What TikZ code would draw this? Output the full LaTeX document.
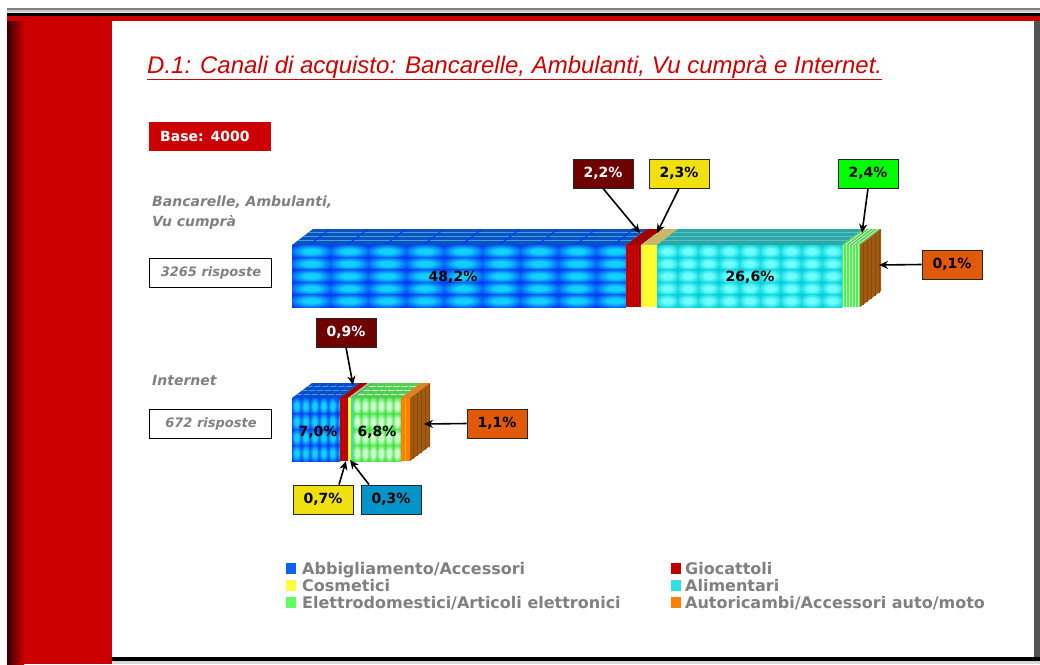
\documentclass[tikz,border=0pt]{standalone}
\usepackage{fontspec}
\setmainfont{DejaVu Sans}
\newfontfamily\titlefont{Liberation Sans}
\usetikzlibrary{arrows.meta}
\definecolor{frred}{HTML}{CC0000}
\definecolor{gtext}{HTML}{808080}
\definecolor{blueIn}{HTML}{10D0FF}
\definecolor{blueOut}{HTML}{0040F4}
\definecolor{cyanIn}{HTML}{70FFFF}
\definecolor{cyanOut}{HTML}{00D0D8}
\definecolor{greenIn}{HTML}{D0FFD0}
\definecolor{greenOut}{HTML}{40E040}
\definecolor{segred}{HTML}{D00000}
\definecolor{redline}{HTML}{980000}
\definecolor{segyellow}{HTML}{FFFF30}
\definecolor{seggreen}{HTML}{50F050}
\definecolor{greenline}{HTML}{C8FFC8}
\definecolor{segorange}{HTML}{FF8000}
\definecolor{brownside}{HTML}{A05A12}
\definecolor{brownline}{HTML}{8A4A08}
\definecolor{bluetop}{HTML}{1050C0}
\definecolor{bluetopline}{HTML}{30A8D8}
\definecolor{redtop}{HTML}{A00000}
\definecolor{yellowtop}{HTML}{C8B868}
\definecolor{cyantop}{HTML}{2EA6A6}
\definecolor{cyantopline}{HTML}{50C4C4}
\definecolor{greentop}{HTML}{58C858}
\definecolor{orangetop}{HTML}{E08020}
\definecolor{boxmaroon}{HTML}{6E0000}
\definecolor{boxyellow}{HTML}{F0E010}
\definecolor{boxgreen}{HTML}{00FF00}
\definecolor{boxorange}{HTML}{E05A0A}
\definecolor{boxblue}{HTML}{0094C8}
\definecolor{legblue}{HTML}{1060F0}
\definecolor{legred}{HTML}{C00000}
\definecolor{legyellow}{HTML}{FFFF40}
\definecolor{legcyan}{HTML}{30E0E0}
\definecolor{leggreen}{HTML}{60FF60}
\definecolor{legorange}{HTML}{FF8000}
\colorlet{tin}{white}
\colorlet{tout}{black}
\pgfdeclareradialshading[tin,tout]{pillow}{\pgfpoint{0bp}{0bp}}{color(0bp)=(tin); color(10bp)=(tin); color(32bp)=(tout); color(50bp)=(tout)}
% x0 x1 y0 y1 w h inner outer
\newcommand{\tilegrid}[8]{%
  \begin{scope}
    \clip (#1,#3) rectangle (#2,#4);
    \fill[#8] (#1,#3) rectangle (#2,#4);
    \colorlet{tin}{#7}\colorlet{tout}{#8}%
    \pgfmathtruncatemacro\tgNc{ceil((#2-#1)/#5)-1}%
    \pgfmathtruncatemacro\tgNr{ceil((#4-#3)/#6)-1}%
    \foreach \i in {0,...,\tgNc}{\foreach \j in {0,...,\tgNr}{%
      \shade[shading=pillow] ({#1+\i*#5},{#3+\j*#6}) rectangle ++(#5,#6);
    }}
  \end{scope}}
% x0 x1 y dx dy colour
\newcommand{\topface}[6]{%
  \fill[#6] (#1,#3) -- (#2,#3) -- ++(#4,#5) -- ({#1+#4},{#3+#5}) -- cycle;}
\begin{document}
\begin{tikzpicture}[x=1pt,y=-1pt,
  callout/.style={draw=black!85, line width=0.8pt, minimum width=60pt, minimum height=29pt, inner sep=0pt, font=\fontsize{14}{16}\selectfont\bfseries},
  arr/.style={-{Stealth[length=9pt,width=8pt]}, line width=1.6pt},
  pct/.style={font=\fontsize{14}{16}\selectfont\bfseries, text=black, inner sep=0pt},
  grayit/.style={font=\fontsize{14}{20}\selectfont\bfseries\itshape, text=gtext, inner sep=0pt, align=left},
  respbox/.style={draw=black, line width=0.8pt, minimum width=122pt, minimum height=29pt, inner sep=0pt, font=\fontsize{13}{16}\selectfont\bfseries\itshape, text=gtext},
  legtext/.style={font=\fontsize{16}{18}\selectfont\bfseries, text=gtext, inner sep=0pt, anchor=base west},
  legsq/.style={minimum width=10pt, minimum height=11pt, inner sep=0pt}
]
\useasboundingbox (0,0) rectangle (1040,664);
\fill[white] (0,0) rectangle (1040,664);
% ---- frame ----
\fill[black!50] (7,8) rectangle (1040,9.5);
\fill[black!22] (7,9.5) rectangle (1040,12);
\fill[black!8] (7,12) rectangle (1040,13);
\fill[black] (7,13) rectangle (1040,16);
\fill[frred] (7,16) rectangle (1040,21);
\fill[frred] (7,21) rectangle (112,664);
\shade[left color=black!75!frred, right color=frred] (7,21) rectangle (24,664);
\fill[black!68] (1034,21) rectangle (1040,657);
\fill[black] (112,657) rectangle (1040,661);
\fill[black!15] (112,661) rectangle (1040,664);
% ---- title ----
\node[anchor=base west, inner sep=0pt, text=frred, font=\titlefont\itshape\fontsize{24}{28}\selectfont] (title) at (147,73) {\underline{D.1: Canali di acquisto: Bancarelle, Ambulanti, Vu cumprà e Internet.}};
% ---- base ----
\node[fill=frred, text=white, anchor=west, minimum height=29pt, inner xsep=11pt, inner ysep=0pt, text width=100pt, font=\fontsize{14}{16}\selectfont\bfseries] (base) at (149,136.5) {Base: 4000};
% ---- row labels ----
\node[grayit, anchor=north west] (lab1) at (152,196) {Bancarelle, Ambulanti,\\Vu cumprà};
\node[respbox] (resp1) at (210,272.5) {\hspace*{2pt}3265 risposte};
\node[grayit, anchor=base west] (lab2) at (152,385) {Internet};
\node[respbox] (resp2) at (210,423.5) {\hspace*{2pt}672 risposte};
% ---- top bar (y 245..307, depth 21,-16) ----
\topface{292}{626}{245}{21}{-16}{bluetop}
\begin{scope}
  \clip (292,245) -- (626,245) -- (647,229) -- (313,229) -- cycle;
  \foreach \yy in {232,236,240}{\draw[bluetopline, line width=1pt] (292,\yy) -- (650,\yy);}
  \foreach \xx in {330,368,...,640}{\draw[blueOut, line width=1.2pt] (\xx,229) -- ({\xx-21},245);}
\end{scope}
\topface{626}{641}{245}{21}{-16}{redtop}
\topface{641}{657}{245}{21}{-16}{yellowtop}
\topface{657}{842}{245}{21}{-16}{cyantop}
\begin{scope}
  \clip (657,245) -- (842,245) -- (863,229) -- (678,229) -- cycle;
  \foreach \yy in {232,236,240}{\draw[cyantopline, line width=1pt] (650,\yy) -- (870,\yy);}
\end{scope}
\topface{842}{860}{245}{21}{-16}{greentop}
\begin{scope}
  \clip (842,245) -- (860,245) -- (881,229) -- (863,229) -- cycle;
  \foreach \xx in {846,850,...,884}{\draw[greenline, line width=0.8pt] (\xx,229) -- ({\xx-21},245);}
\end{scope}
\tilegrid{292}{626}{245}{307}{38}{12.4}{blueIn}{blueOut}
\fill[segred] (626,245) rectangle (641,307);
\foreach \xx in {627.5,630.5,...,640}{\draw[redline, line width=0.8pt] (\xx,245) -- (\xx,307);}
\fill[segyellow] (641,245) rectangle (657,307);
\tilegrid{657}{842}{245}{307}{20.6}{12.4}{cyanIn}{cyanOut}
\fill[seggreen] (842,245) rectangle (860,307);
\foreach \xx in {843.5,846.5,...,859}{\draw[greenline, line width=0.8pt] (\xx,245) -- (\xx,307);}
\fill[brownside] (860,245) -- (881,229) -- (881,291) -- (860,307) -- cycle;
\foreach \xx in {863,867,...,880}{\draw[brownline, line width=0.6pt] (\xx,{245-16*(\xx-860)/21}) -- (\xx,{307-16*(\xx-860)/21});}
\node[pct] (p482) at (453,277) {48,2\%};
\node[pct] (p266) at (750,277) {26,6\%};
\coordinate (t22) at (640,233);
\coordinate (t23) at (657,233);
\coordinate (t24) at (862,233);
\coordinate (t01) at (879,265);
% ---- internet bar (y 398..461, depth 20,-15) ----
\topface{292}{340}{398}{20}{-15}{bluetop}
\begin{scope}
  \clip (292,398) -- (340,398) -- (360,383) -- (312,383) -- cycle;
  \foreach \yy in {386,390,394}{\draw[bluetopline, line width=0.8pt] (290,\yy) -- (362,\yy);}
  \foreach \xx in {310,318,...,362}{\draw[blueOut, line width=0.8pt] (\xx,383) -- ({\xx-20},398);}
\end{scope}
\topface{340}{348}{398}{20}{-15}{redtop}
\topface{348}{351}{398}{20}{-15}{yellowtop}
\topface{351}{353}{398}{20}{-15}{cyantop}
\topface{353}{401}{398}{20}{-15}{greentop}
\begin{scope}
  \clip (353,398) -- (401,398) -- (421,383) -- (373,383) -- cycle;
  \foreach \yy in {386,390,394}{\draw[greenIn, line width=0.8pt] (350,\yy) -- (425,\yy);}
  \foreach \xx in {373,381,...,425}{\draw[greenOut, line width=0.8pt] (\xx,383) -- ({\xx-20},398);}
\end{scope}
\topface{401}{410}{398}{20}{-15}{orangetop}
\tilegrid{292}{340}{398}{461}{9}{15.75}{blueIn}{blueOut}
\fill[segred] (340,398) rectangle (348,461);
\foreach \xx in {341.5,344.5,347}{\draw[redline, line width=0.6pt] (\xx,398) -- (\xx,461);}
\fill[segyellow] (348,398) rectangle (351,461);
\fill[legcyan] (351,398) rectangle (353,461);
\tilegrid{353}{401}{398}{461}{8}{15.75}{greenIn}{greenOut}
\fill[segorange] (401,398) rectangle (410,461);
\draw[orange!60!yellow, line width=1pt] (405.5,398) -- (405.5,461);
\fill[brownside] (410,398) -- (430,383) -- (430,446) -- (410,461) -- cycle;
\foreach \xx in {413,417,...,429}{\draw[brownline, line width=0.6pt] (\xx,{398-15*(\xx-410)/20}) -- (\xx,{461-15*(\xx-410)/20});}
\node[pct] (p70) at (318,432) {7,0\%};
\node[pct] (p68) at (377,432) {6,8\%};
\coordinate (t09) at (353,385);
\coordinate (t11) at (424,424);
\coordinate (t07) at (346,461);
\coordinate (t03) at (350,460);
% ---- callouts ----
\node[callout, fill=boxmaroon, text=white] (c22) at (603,173.5) {2,2\%};
\node[callout, fill=boxyellow] (c23) at (679,173.5) {2,3\%};
\node[callout, fill=boxgreen] (c24) at (868,173.5) {2,4\%};
\node[callout, fill=boxorange] (c01) at (952,264.5) {0,1\%};
\node[callout, fill=boxmaroon, text=white] (c09) at (346,332.5) {0,9\%};
\node[callout, fill=boxorange] (c11) at (497,423.5) {1,1\%};
\node[callout, fill=boxyellow] (c07) at (323,499.5) {0,7\%};
\node[callout, fill=boxblue] (c03) at (391,499.5) {0,3\%};
\draw[arr] (c22.south) -- (t22);
\draw[arr] (c23.south) -- (t23);
\draw[arr] (c24.south) -- (t24);
\draw[arr] (c01.west) -- (t01);
\draw[arr] (c09.south) -- (t09);
\draw[arr] (c11.west) -- (t11);
\draw[arr] ([xshift=16pt]c07.north) -- (t07);
\draw[arr] ([xshift=-22pt]c03.north) -- (t03);
% ---- legend ----
\node[legsq, fill=legblue] (lq1) at (291,568) {};
\node[legtext] (lt1) at (302,574) {Abbigliamento/Accessori};
\node[legsq, fill=legyellow] (lq2) at (291,585) {};
\node[legtext] (lt2) at (302,591) {Cosmetici};
\node[legsq, fill=leggreen] (lq3) at (291,602) {};
\node[legtext] (lt3) at (302,608) {Elettrodomestici/Articoli elettronici};
\node[legsq, fill=legred] (lq4) at (676,568) {};
\node[legtext] (lt4) at (685,574) {Giocattoli};
\node[legsq, fill=legcyan] (lq5) at (676,585) {};
\node[legtext] (lt5) at (685,591) {Alimentari};
\node[legsq, fill=legorange] (lq6) at (676,602) {};
\node[legtext] (lt6) at (685,608) {Autoricambi/Accessori auto/moto};
\end{tikzpicture}
\end{document}
